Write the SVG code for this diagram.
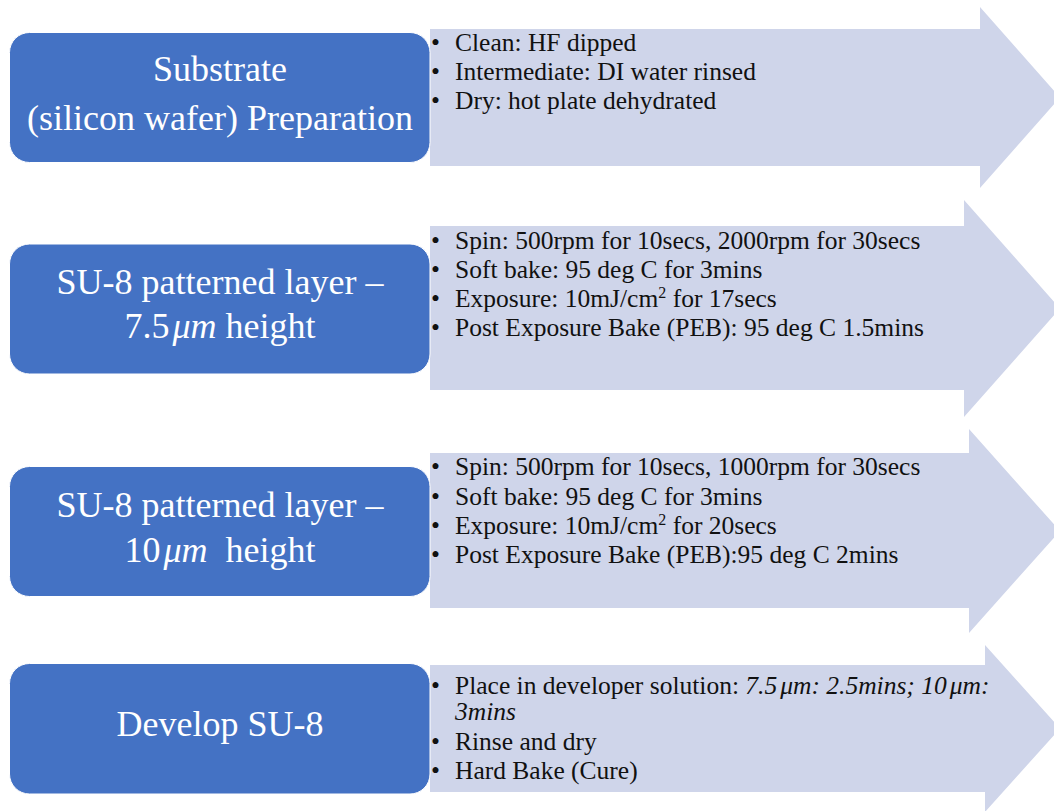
<svg xmlns="http://www.w3.org/2000/svg" width="1054" height="811" viewBox="0 0 1054 811" font-family="'Liberation Serif', 'DejaVu Serif', serif">
  <style>
    .step { fill: #4472C4; stroke: #ffffff; stroke-width: 1; }
    .band { fill: #CFD5EA; }
    .title { font-family: 'Liberation Serif', 'DejaVu Serif', serif; font-size: 36px; fill: #ffffff; text-anchor: middle; white-space: pre; }
    .item { font-family: 'Liberation Serif', 'DejaVu Serif', serif; font-size: 25.5px; fill: #111111; }
    .it { font-style: italic; }
    .sup { font-size: 16px; }
  </style>

  <!-- process arrows behind the step labels -->
  <g id="connectors">
    <polygon class="band" points="430,29 980,29 980,7 1060,97.5 980,188 980,166 430,166"/>
    <polygon class="band" points="430,226 964,226 964,200 1060,308.5 964,417 964,390 430,390"/>
    <polygon class="band" points="430,453 969,453 969,429 1060,531 969,633 969,608 430,608"/>
    <polygon class="band" points="430,665 985,665 985,645 1060,728.5 985,812 985,792 430,792"/>
  </g>

  <!-- step 1: substrate preparation -->
  <g id="step-substrate">
    <rect class="step" x="9.5" y="32.5" width="420.5" height="130" rx="20"/>
    <text class="title" x="220" y="81">Substrate</text>
    <text class="title" x="220" y="130">(silicon wafer) Preparation</text>
    <text class="item" x="431" y="51">•</text>
    <text class="item" x="455" y="51">Clean: HF dipped</text>
    <text class="item" x="431" y="80">•</text>
    <text class="item" x="455" y="80">Intermediate: DI water rinsed</text>
    <text class="item" x="431" y="109">•</text>
    <text class="item" x="455" y="109">Dry: hot plate dehydrated</text>
  </g>

  <!-- step 2: first SU-8 layer -->
  <g id="step-layer-7-5">
    <rect class="step" x="9.5" y="244" width="420.5" height="130" rx="20"/>
    <text class="title" x="220" y="294">SU-8 patterned layer –</text>
    <text class="title" x="220" y="338">7.5<tspan class="it" dx="3">μm</tspan> height</text>
    <text class="item" x="431" y="249">•</text>
    <text class="item" x="455" y="249">Spin: 500rpm for 10secs, 2000rpm for 30secs</text>
    <text class="item" x="431" y="278">•</text>
    <text class="item" x="455" y="278">Soft bake: 95 deg C for 3mins</text>
    <text class="item" x="431" y="307">•</text>
    <text class="item" x="455" y="307">Exposure: 10mJ/cm<tspan class="sup" dy="-9">2</tspan><tspan dy="9"> for 17secs</tspan></text>
    <text class="item" x="431" y="336">•</text>
    <text class="item" x="455" y="336">Post Exposure Bake (PEB): 95 deg C 1.5mins</text>
  </g>

  <!-- step 3: second SU-8 layer -->
  <g id="step-layer-10">
    <rect class="step" x="9.5" y="466.5" width="420.5" height="130" rx="20"/>
    <text class="title" x="220" y="517">SU-8 patterned layer –</text>
    <text class="title" x="220" y="562">10<tspan class="it" dx="3">μm</tspan>  height</text>
    <text class="item" x="431" y="475">•</text>
    <text class="item" x="455" y="475">Spin: 500rpm for 10secs, 1000rpm for 30secs</text>
    <text class="item" x="431" y="505">•</text>
    <text class="item" x="455" y="505">Soft bake: 95 deg C for 3mins</text>
    <text class="item" x="431" y="534">•</text>
    <text class="item" x="455" y="534">Exposure: 10mJ/cm<tspan class="sup" dy="-9">2</tspan><tspan dy="9"> for 20secs</tspan></text>
    <text class="item" x="431" y="563">•</text>
    <text class="item" x="455" y="563">Post Exposure Bake (PEB):95 deg C 2mins</text>
  </g>

  <!-- step 4: development -->
  <g id="step-develop">
    <rect class="step" x="9.5" y="663.5" width="420.5" height="130.5" rx="20"/>
    <text class="title" x="220" y="736">Develop SU-8</text>
    <text class="item" x="431" y="694">•</text>
    <text class="item" x="455" y="694">Place in developer solution: <tspan class="it">7.5</tspan><tspan class="it" dx="3">μm: 2.5mins; 10</tspan><tspan class="it" dx="3">μm:</tspan></text>
    <text class="item it" x="455" y="720">3mins</text>
    <text class="item" x="431" y="750">•</text>
    <text class="item" x="455" y="750">Rinse and dry</text>
    <text class="item" x="431" y="779">•</text>
    <text class="item" x="455" y="779">Hard Bake (Cure)</text>
  </g>
</svg>
